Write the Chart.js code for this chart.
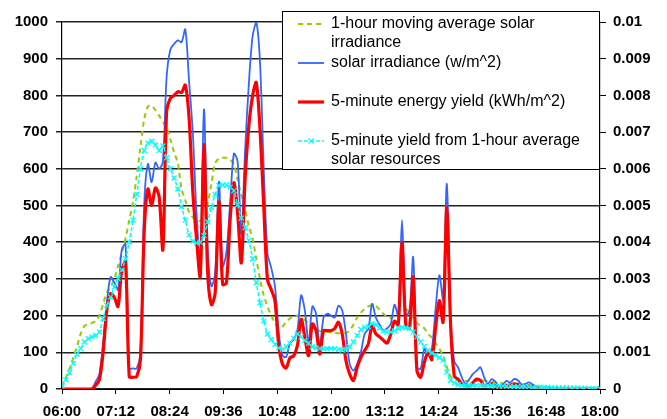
<!DOCTYPE html>
<html>
<head>
<meta charset="utf-8">
<script src="https://cdn.jsdelivr.net/npm/chart.js@4/dist/chart.umd.min.js"></script>
<style>
  html, body { margin: 0; padding: 0; background: #fff; }
  #wrap { width: 667px; height: 419px; }
</style>
</head>
<body>
<div id="wrap"><canvas id="solarChart" width="667" height="419"></canvas></div>
<script>
// 5-minute samples from 06:00 to 18:00
const stepMinutes = 5;
const timeTicks = ['06:00', '07:12', '08:24', '09:36', '10:48', '12:00', '13:12', '14:24', '15:36', '16:48', '18:00'];
const irradianceTicks = [0, 100, 200, 300, 400, 500, 600, 700, 800, 900, 1000];
const yieldTicks = [0, 0.001, 0.002, 0.003, 0.004, 0.005, 0.006, 0.007, 0.008, 0.009, 0.01];

const seriesNames = [
    '1-hour moving average solar irradiance',
    'solar irradiance (w/m^2)',
    '5-minute energy yield (kWh/m^2)',
    '5-minute yield from 1-hour average solar resources'
];

// w/m^2
const hourAvgIrradiance = [
    5, 30, 55, 85, 115, 150, 172, 176, 180, 185,
    200, 232, 262, 278, 300, 335, 370, 410, 460, 510,
    580, 660, 735, 770, 772, 760, 745, 728, 712, 680,
    645, 615, 545, 515, 482, 468, 458, 458, 465, 505,
    560, 615, 628, 630, 630, 625, 612, 570, 528, 490,
    445, 410, 355, 300, 255, 225, 200, 180, 165, 170,
    182, 192, 198, 200, 196, 188, 178, 168, 162, 158,
    155, 155, 154, 153, 152, 151, 153, 160, 175, 195,
    208, 218, 225, 228, 226, 216, 205, 197, 193, 200,
    210, 217, 218, 208, 195, 180, 172, 165, 150, 140,
    125, 110, 90, 60, 35, 26, 24, 23, 22, 22,
    22, 22, 23, 23, 22, 20, 18, 17, 16, 15,
    15, 14, 13, 12, 11, 10, 9, 8, 7, 6,
    5, 4, 3, 3, 2, 2, 1, 1, 0, 0,
    0, 0, 0, 0, 0
];

const irradiance = [
    0, 0, 0, 0, 0, 0, 0, 0, 0, 20,
    40, 125, 235, 305, 290, 270, 380, 395, 56, 56,
    56, 100, 500, 613, 563, 617, 600, 620, 850, 925,
    940, 950, 945, 980, 840, 700, 480, 350, 762, 380,
    280, 316, 565, 335, 371, 507, 641, 620, 420, 650,
    830, 960, 1000, 890, 600, 370, 330, 280, 155, 92,
    87, 125, 135, 160, 255, 214, 125, 225, 205, 114,
    195, 205, 200, 195, 227, 214, 150, 68, 50, 68,
    100, 150, 164, 232, 195, 175, 160, 165, 177, 230,
    200, 460, 200, 214, 359, 60, 55, 110, 90, 110,
    220, 310, 245, 559, 200, 75, 59, 32, 14, 27,
    41, 50, 59, 32, 14, 27, 20, 8, 12, 22,
    18, 27, 24, 12, 14, 18, 12, 6, 4, 3,
    3, 2, 2, 2, 1, 1, 1, 1, 0, 0,
    0, 0, 0, 0, 0
];

// kWh/m^2
const energyYield = [
    0, 0, 0, 0, 0, 0, 0, 0, 0, 0.0001,
    0.00025, 0.001, 0.00215, 0.0026, 0.0025, 0.00225, 0.00325, 0.00345, 0.00034, 0.00032,
    0.00034, 0.0008, 0.0043, 0.00545, 0.005, 0.00548, 0.00524, 0.0038, 0.00755, 0.00792,
    0.008, 0.0081, 0.00808, 0.00828, 0.0074, 0.0054, 0.0041, 0.00307, 0.00666, 0.00316,
    0.0023, 0.00262, 0.0051, 0.00285, 0.00289, 0.00462, 0.00562, 0.0048, 0.00344, 0.00571,
    0.00716, 0.00798, 0.00835, 0.00707, 0.00498, 0.00298, 0.00271, 0.0024, 0.0012, 0.00068,
    0.00057, 0.00085, 0.0009, 0.00118, 0.0019, 0.00141, 0.00091, 0.00177, 0.00159, 0.00095,
    0.00159, 0.00159, 0.00159, 0.00165, 0.00182, 0.0015, 0.00077, 0.00041, 0.00023, 0.00059,
    0.00086, 0.00105, 0.00123, 0.00173, 0.0015, 0.00142, 0.00133, 0.00125, 0.0015, 0.00185,
    0.00175, 0.004, 0.00177, 0.00165, 0.00305, 0.0005, 0.00032, 0.00073, 0.001, 0.0008,
    0.00168, 0.00241, 0.00182, 0.00495, 0.00177, 0.00035, 0.00027, 0.00014, 0.00009, 0.00009,
    0.00018, 0.00027, 0.00023, 0.00009, 0.00012, 0.00014, 0.00008, 0.00005, 0.00005, 0.0001,
    0.0001, 0.00014, 0.00012, 0.00006, 0.00006, 0.00008, 0.00006, 0.00003, 0.00002, 0.00001,
    0.00001, 0.00001, 0, 0, 0, 0, 0, 0, 0, 0,
    0, 0, 0, 0, 0
];

const hourAvgYield = [
    0.00008, 0.00025, 0.00045, 0.0007, 0.00095, 0.0011, 0.00128, 0.00137, 0.00142, 0.00146,
    0.00155, 0.00192, 0.00228, 0.00251, 0.00278, 0.00301, 0.00324, 0.00355, 0.004, 0.0046,
    0.0053, 0.006, 0.0065, 0.0067, 0.00675, 0.00665, 0.0065, 0.00662, 0.0063, 0.006,
    0.00575, 0.00545, 0.00497, 0.0046, 0.0042, 0.00403, 0.00398, 0.004, 0.00418, 0.00455,
    0.00495, 0.0053, 0.00555, 0.00556, 0.00556, 0.0055, 0.0054, 0.00502, 0.00466, 0.0044,
    0.00405, 0.00355, 0.0029, 0.00235, 0.00185, 0.0015, 0.00135, 0.00122, 0.00112, 0.00108,
    0.00115, 0.00125, 0.00138, 0.0015, 0.00142, 0.00132, 0.00125, 0.00115, 0.00112, 0.0011,
    0.0011, 0.0011, 0.0011, 0.0011, 0.00108, 0.00106, 0.00108, 0.00115, 0.00128, 0.00146,
    0.00162, 0.00168, 0.0017, 0.00178, 0.00175, 0.00166, 0.00158, 0.00155, 0.00155, 0.00158,
    0.00165, 0.00168, 0.00167, 0.00165, 0.00155, 0.00142, 0.00128, 0.00116, 0.00105, 0.00098,
    0.00092, 0.00085, 0.00078, 0.00046, 0.00024, 0.00016, 0.00012, 0.0001, 0.0001, 0.0001,
    0.0001, 0.0001, 0.0001, 0.0001, 0.0001, 0.0001, 0.00008, 0.00008, 0.00008, 0.00008,
    0.00008, 0.00006, 0.00006, 0.00006, 0.00006, 0.00006, 0.00004, 0.00004, 0.00004, 0.00004,
    0.00004, 0.00003, 0.00003, 0.00003, 0.00003, 0.00003, 0.00002, 0.00002, 0.00002, 0.00002,
    0.00002, 0.00001, 0.00001, 0.00001, 0.00001
];

const sampleMinutes = irradiance.map((_, i) => i * stepMinutes);

function toMinutes(label) {
    const [h, m] = label.split(':').map(Number);
    return (h - 6) * 60 + m;
}

function toLabel(minutes) {
    const h = 6 + Math.floor(minutes / 60);
    const m = Math.round(minutes % 60);
    return String(h).padStart(2, '0') + ':' + String(m).padStart(2, '0');
}

const FONT = '"Liberation Sans", Arial, sans-serif';
const tickFont = { family: FONT, size: 15, weight: 'bold' };

// legend drawn as a boxed panel in the top right corner of the plot
const boxLegend = {
    id: 'boxLegend',
    afterDraw(chart) {
        const { ctx, chartArea } = chart;
        const w = 318, h = 159;
        const x0 = Math.round(chartArea.right) - w, y0 = Math.round(chartArea.top) - 11;
        ctx.save();
        ctx.fillStyle = '#fff';
        ctx.fillRect(x0, y0, w, h);
        ctx.strokeStyle = '#000';
        ctx.lineWidth = 1;
        ctx.strokeRect(x0 + 0.5, y0 + 0.5, w - 1, h - 1);

        ctx.font = '16px ' + FONT;
        ctx.textBaseline = 'middle';
        ctx.textAlign = 'left';
        const textX = x0 + 49;
        const maxW = w - 49 - 8;

        chart.data.datasets.forEach((ds, k) => {
            const cy = y0 + 13 + 39 * k;
            ctx.save();
            ctx.strokeStyle = ds.borderColor;
            ctx.lineWidth = ds.borderWidth;
            ctx.setLineDash(ds.borderDash || []);
            ctx.beginPath();
            ctx.moveTo(x0 + 16, cy);
            ctx.lineTo(x0 + 42, cy);
            ctx.stroke();
            if (ds.pointRadius) {
                const r = ds.pointRadius * 0.75;
                const px = x0 + 29;
                ctx.setLineDash([]);
                ctx.lineWidth = ds.pointBorderWidth;
                ctx.beginPath();
                ctx.moveTo(px - r, cy - r); ctx.lineTo(px + r, cy + r);
                ctx.moveTo(px - r, cy + r); ctx.lineTo(px + r, cy - r);
                ctx.stroke();
            }
            ctx.restore();

            // word wrap
            const words = ds.label.split(' ');
            const lines = [];
            let line = '';
            words.forEach(word => {
                const test = line ? line + ' ' + word : word;
                if (ctx.measureText(test).width > maxW && line) {
                    lines.push(line);
                    line = word;
                } else {
                    line = test;
                }
            });
            lines.push(line);
            ctx.fillStyle = '#000';
            lines.forEach((l, j) => ctx.fillText(l, textX, cy + j * 19));
        });
        ctx.restore();
    }
};

const ctx = document.getElementById('solarChart').getContext('2d');

new Chart(ctx, {
    type: 'line',
    data: {
        labels: sampleMinutes,
        datasets: [
            {
                label: seriesNames[0],
                data: hourAvgIrradiance,
                yAxisID: 'y',
                borderColor: '#99CC00',
                borderWidth: 2,
                borderDash: [5, 4],
                pointRadius: 0,
                tension: 0.3,
                order: 4
            },
            {
                label: seriesNames[1],
                data: irradiance,
                yAxisID: 'y',
                borderColor: '#3366FF',
                borderWidth: 1.8,
                pointRadius: 0,
                tension: 0.3,
                order: 3
            },
            {
                label: seriesNames[2],
                data: energyYield,
                yAxisID: 'y1',
                borderColor: '#FF0000',
                borderWidth: 3.2,
                pointRadius: 0,
                tension: 0.3,
                order: 2
            },
            {
                label: seriesNames[3],
                data: hourAvgYield,
                yAxisID: 'y1',
                borderColor: '#00FFFF',
                borderWidth: 1.5,
                borderDash: [4, 2],
                pointStyle: 'crossRot',
                pointRadius: 3.5,
                pointBorderWidth: 1.3,
                pointBorderColor: '#00FFFF',
                pointBackgroundColor: '#00FFFF',
                tension: 0.3,
                order: 1
            }
        ]
    },
    options: {
        responsive: false,
        animation: false,
        devicePixelRatio: 1,
        layout: { padding: { top: 22, left: 0, right: 0, bottom: 0 } },
        plugins: {
            legend: { display: false },
            tooltip: { enabled: false }
        },
        scales: {
            x: {
                type: 'linear',
                min: toMinutes(timeTicks[0]),
                max: toMinutes(timeTicks[timeTicks.length - 1]),
                afterBuildTicks: scale => {
                    scale.ticks = timeTicks.map(t => ({ value: toMinutes(t) }));
                },
                afterFit: scale => { scale.height = 30; },
                ticks: {
                    callback: v => toLabel(v),
                    color: '#000',
                    font: tickFont,
                    padding: 9,
                    maxRotation: 0,
                    autoSkip: false
                },
                grid: { drawOnChartArea: false, drawTicks: true, tickLength: 5, color: '#000' },
                border: { display: true, color: '#000', width: 1 }
            },
            y: {
                position: 'left',
                min: irradianceTicks[0],
                max: irradianceTicks[irradianceTicks.length - 1],
                afterBuildTicks: scale => {
                    scale.ticks = irradianceTicks.map(v => ({ value: v }));
                },
                afterFit: scale => { scale.width = 62; },
                ticks: { callback: v => String(v), color: '#000', font: tickFont, padding: 8 },
                grid: { color: '#222', lineWidth: 1.5, tickLength: 6 },
                border: { display: true, color: '#000', width: 1.2 }
            },
            y1: {
                position: 'right',
                min: yieldTicks[0],
                max: yieldTicks[yieldTicks.length - 1],
                afterBuildTicks: scale => {
                    scale.ticks = yieldTicks.map(v => ({ value: v }));
                },
                afterFit: scale => { scale.width = 67; },
                ticks: {
                    callback: v => String(+v.toFixed(3)),
                    color: '#000',
                    font: tickFont,
                    padding: 7
                },
                grid: { drawOnChartArea: false, color: '#000', tickLength: 6 },
                border: { display: true, color: '#000', width: 1.2 }
            }
        }
    },
    plugins: [boxLegend]
});
</script>
</body>
</html>
